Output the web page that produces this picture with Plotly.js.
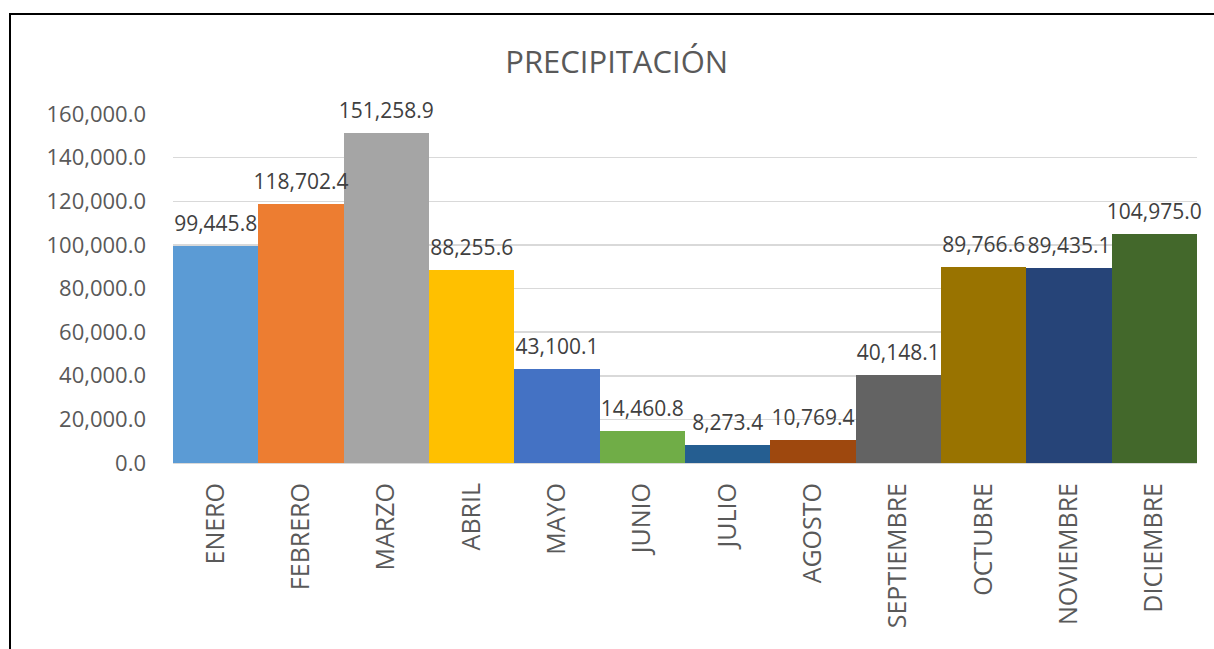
<!DOCTYPE html>
<html>
<head>
<meta charset="utf-8">
<script src="https://cdn.plot.ly/plotly-3.0.1.min.js"></script>
<style>
  html, body { margin: 0; padding: 0; background: #fff; }
  #wrap { position: relative; width: 1214px; height: 649px; }
  #chart { width: 1214px; height: 649px; }
  #frame { position: absolute; left: 9px; top: 13px; width: 1220px; height: 660px;
           border-left: 2px solid #000; border-top: 2px solid #000; pointer-events: none; }
</style>
</head>
<body>
<div id="wrap">
  <div id="chart"></div>
  <div id="frame"></div>
</div>
<script>
const months = ["ENERO","FEBRERO","MARZO","ABRIL","MAYO","JUNIO","JULIO","AGOSTO","SEPTIEMBRE","OCTUBRE","NOVIEMBRE","DICIEMBRE"];
const precipitation = [99445.8, 118702.4, 151258.9, 88255.6, 43100.1, 14460.8, 8273.4, 10769.4, 40148.1, 89766.6, 89435.1, 104975.0];
const barColors = ["#5B9BD5","#ED7D31","#A5A5A5","#FFC000","#4472C4","#70AD47","#255E91","#9E480E","#636363","#997300","#264478","#43682B"];
const yTicks = [0, 20000, 40000, 60000, 80000, 100000, 120000, 140000, 160000];

const fontFam = "'Open Sans', sans-serif";
const labels = precipitation.map(v => v.toLocaleString("en-US", {minimumFractionDigits: 1, maximumFractionDigits: 1}));

const bars = {
  type: "bar",
  x: months,
  y: precipitation,
  marker: { color: barColors, line: { width: 0 } },
  hoverinfo: "x+y"
};

const valueLabels = {
  type: "scatter",
  mode: "markers+text",
  x: months,
  y: precipitation,
  text: labels,
  textposition: "top center",
  cliponaxis: false,
  marker: { size: 14, opacity: 0 },
  textfont: { family: fontFam, size: 21, color: "#404040" },
  hoverinfo: "skip"
};

const layout = {
  width: 1214,
  height: 649,
  paper_bgcolor: "#fff",
  plot_bgcolor: "#fff",
  margin: { l: 173, r: 17, t: 114, b: 186 },
  bargap: 0,
  showlegend: false,
  title: {
    text: "PRECIPITACIÓN",
    font: { family: fontFam, size: 31, color: "#595959" },
    x: 0.508, xanchor: "center",
    y: 0.905, yanchor: "middle", yref: "container"
  },
  xaxis: {
    type: "category",
    range: [-0.5, months.length - 0.5],
    tickangle: -90,
    tickfont: { family: fontFam, size: 25, color: "#595959" },
    showgrid: false,
    showline: false,
    ticks: "",
    ticklabelstandoff: 14
  },
  yaxis: {
    range: [0, 160000],
    tickvals: yTicks,
    tickformat: ",.1f",
    tickfont: { family: fontFam, size: 22, color: "#595959" },
    showgrid: true,
    gridcolor: "#D9D9D9",
    gridwidth: 1.5,
    zeroline: true,
    zerolinecolor: "#D9D9D9",
    zerolinewidth: 1.5,
    showline: false,
    ticks: "",
    ticklabelstandoff: 26
  }
};

Plotly.newPlot("chart", [bars, valueLabels], layout, { displayModeBar: false, staticPlot: true });
</script>
</body>
</html>
